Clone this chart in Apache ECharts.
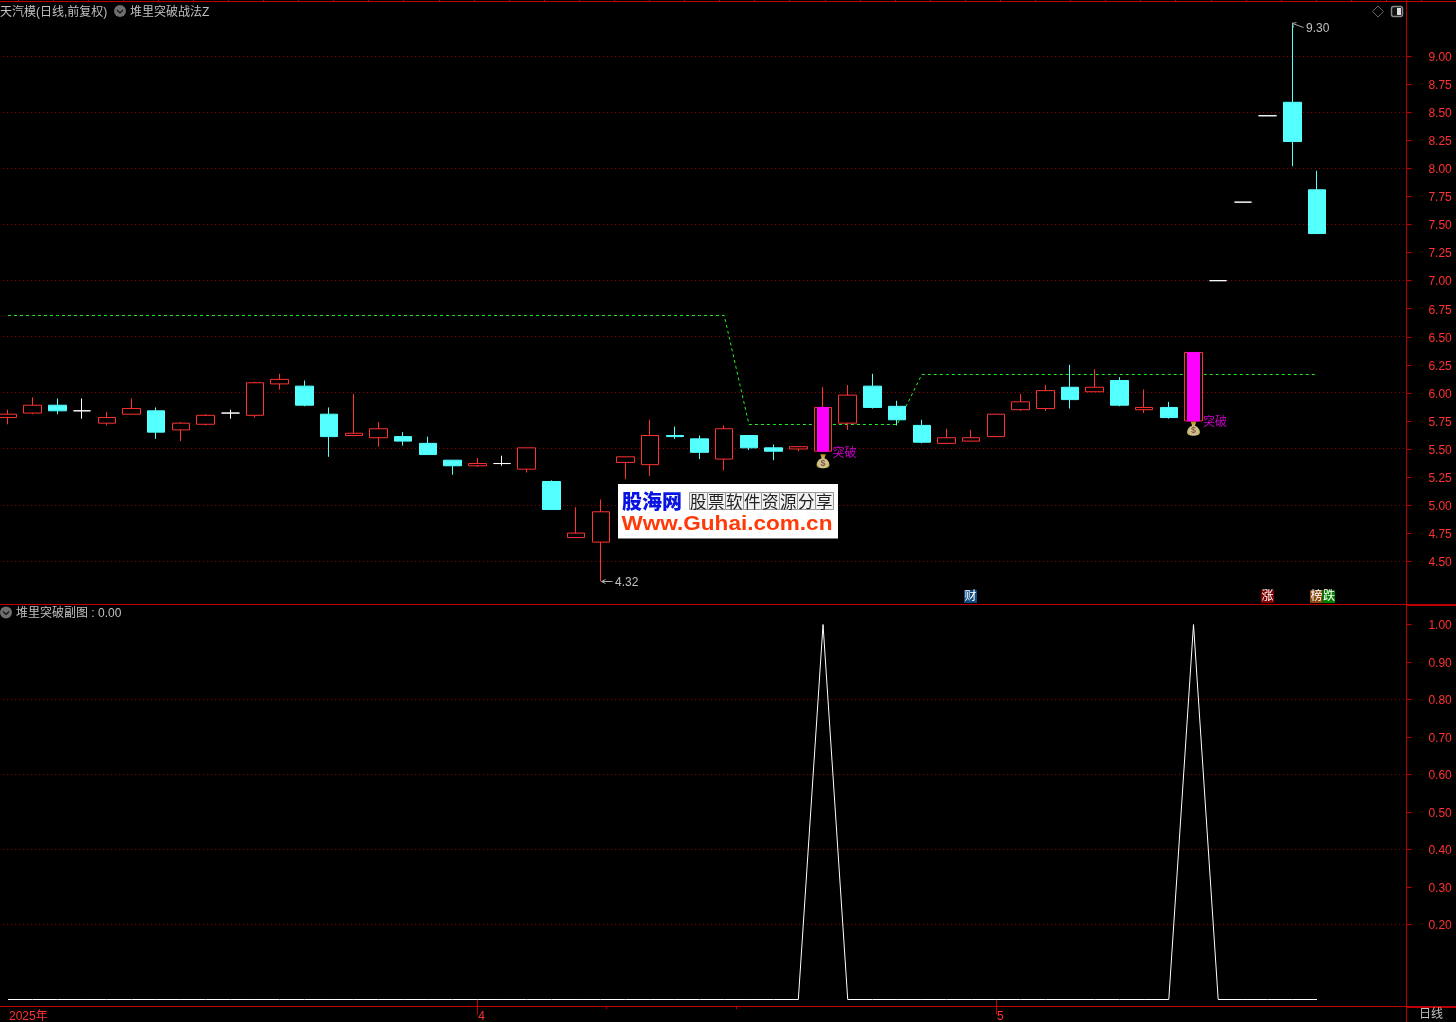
<!DOCTYPE html>
<html>
<head>
<meta charset="utf-8">
<style>html,body{margin:0;padding:0;background:#000;overflow:hidden}#c{width:1456px;height:1022px}</style>
<script src="https://cdn.jsdelivr.net/npm/echarts@6/dist/echarts.min.js"></script>
</head>
<body>
<div id="c"></div>
<script>
const dates = ['03-05','03-06','03-07','03-10','03-11','03-12','03-13','03-14','03-17','03-18','03-19','03-20','03-21','03-24','03-25','03-26','03-27','03-28','03-31','04-01','04-02','04-03','04-07','04-08','04-09','04-10','04-11','04-14','04-15','04-16','04-17','04-18','04-21','04-22','04-23','04-24','04-25','04-28','04-29','04-30','05-06','05-07','05-08','05-09','05-12','05-13','05-14','05-15','05-16','05-19','05-20','05-21','05-22','05-23','','',''];
const opens  = [5.78,5.82,5.89,5.84,5.73,5.81,5.84,5.67,5.72,5.82,5.80,6.08,6.06,5.81,5.62,5.60,5.61,5.55,5.40,5.35,5.37,5.32,5.21,4.71,4.67,5.38,5.36,5.62,5.59,5.41,5.62,5.51,5.50,5.48,5.73,6.06,5.88,5.71,5.55,5.57,5.61,5.85,5.86,6.05,6.01,6.11,5.85,5.87,5.75,7.00,7.70,8.47,8.59,7.81];
const closes = [5.81,5.89,5.84,5.84,5.78,5.86,5.65,5.73,5.80,5.82,6.09,6.12,5.89,5.61,5.64,5.68,5.57,5.45,5.35,5.37,5.37,5.51,4.96,4.75,4.94,5.43,5.62,5.61,5.47,5.68,5.51,5.48,5.52,5.87,5.98,5.87,5.76,5.56,5.60,5.60,5.81,5.92,6.02,5.94,6.05,5.89,5.87,5.78,6.36,7.00,7.70,8.47,8.24,7.42];
const highs  = [5.85,5.96,5.95,5.95,5.83,5.95,5.87,5.74,5.81,5.85,6.10,6.17,6.11,5.87,5.99,5.74,5.65,5.61,5.40,5.42,5.44,5.51,5.22,4.98,5.05,5.43,5.76,5.70,5.62,5.71,5.62,5.54,5.52,6.05,6.07,6.17,5.93,5.76,5.68,5.67,5.81,5.99,6.07,6.25,6.21,6.14,6.03,5.92,6.36,7.00,7.70,8.47,9.30,7.98];
const lows   = [5.72,5.81,5.81,5.77,5.71,5.81,5.59,5.57,5.71,5.77,5.78,6.03,5.88,5.43,5.62,5.52,5.53,5.45,5.27,5.34,5.35,5.29,4.96,4.71,4.32,5.23,5.26,5.59,5.41,5.31,5.49,5.40,5.48,5.48,5.67,5.86,5.71,5.55,5.55,5.57,5.61,5.84,5.84,5.86,6.01,5.88,5.82,5.77,5.75,7.00,7.70,8.47,8.02,7.42];
const supportLine = [6.69,6.69,6.69,6.69,6.69,6.69,6.69,6.69,6.69,6.69,6.69,6.69,6.69,6.69,6.69,6.69,6.69,6.69,6.69,6.69,6.69,6.69,6.69,6.69,6.69,6.69,6.69,6.69,6.69,6.69,5.718,5.718,5.718,5.718,5.718,5.718,5.718,6.164,6.164,6.164,6.164,6.164,6.164,6.164,6.164,6.164,6.164,6.164,6.164,6.164,6.164,6.164,6.164,6.164];
const signalLine = [0,0,0,0,0,0,0,0,0,0,0,0,0,0,0,0,0,0,0,0,0,0,0,0,0,0,0,0,0,0,0,0,0,1,0,0,0,0,0,0,0,0,0,0,0,0,0,0,1,0,0,0,0,0];
const breakouts = [33, 48];
const bagPrices = [5.39, 5.68];
const breakoutLabelPrices = [5.46, 5.735];
const extremes = [[24, 4.32], [52, 9.30]];
const priceTicks = [4.5,4.75,5,5.25,5.5,5.75,6,6.25,6.5,6.75,7,7.25,7.5,7.75,8,8.25,8.5,8.75,9];
const priceGrid = [4.5,5,5.5,6,6.5,7,7.5,8,8.5,9];
const signalTicks = [0.2,0.3,0.4,0.5,0.6,0.7,0.8,0.9,1];
const signalGrid = [0.2,0.4,0.6,0.8];
const xTickLabels = {0:'2025年', 19:'4', 40:'5'};
const slogan = ['股','票','软','件','资','源','分','享'];

const FONT = '"Liberation Sans","Noto Sans CJK SC",sans-serif';
const RED = '#ff3232', FRAME = '#c00000', GRIDC = '#900000', GRAY = '#c0c0c0', T = 'transparent';
const BAND = 24.698, LEFT = -4.35, WIDTH = BAND * 57;

const candles = opens.map((o, i) => [o, closes[i], lows[i], highs[i]]);

function txt(x, y, s, fill, size, extra) {
  return {type:'text', z:100, x, y: y + 1.5, style:Object.assign({text:s, fill, font:`${size||12}px ${FONT}`, textVerticalAlign:'middle'}, extra||{})};
}
function ln(x1, y1, x2, y2, stroke, w) {
  return {type:'line', z:90, shape:{x1,y1,x2,y2}, style:{stroke, lineWidth:w||1}};
}
function chevron(cx, cy) {
  return [
    {type:'circle', z:100, shape:{cx, cy, r:6}, style:{fill:'#6e6e6e'}},
    {type:'polyline', z:101, shape:{points:[[cx-3,cy-1],[cx,cy+2],[cx+3,cy-1]]}, style:{stroke:'#111', lineWidth:1.2, fill:null}}
  ];
}
function badge(x, y, w, bg, s) {
  return [
    {type:'rect', z:100, shape:{x, y, width:w, height:13}, style:{fill:bg}},
    txt(x + 0.5, y + 5.5, s, '#fff', 12)
  ];
}
function gridRender(params, api) {
  const y = Math.floor(api.coord([0, api.value(0)])[1]) + 0.5;
  return {type:'line', shape:{x1:3, y1:y, x2:1406, y2:y}, style:{stroke:GRIDC, lineWidth:1, lineDash:[1,3]}};
}
const logo = [
  {type:'rect', z:110, shape:{x:618, y:484, width:220, height:54.5}, style:{fill:'#fff'}},
  {type:'text', z:111, x:622, y:501.5, style:{text:'股海网', fill:'#0a14e0', font:`900 20px "Noto Sans CJK SC"`, textVerticalAlign:'middle'}},
  {type:'text', z:111, x:621.5, y:524.5, scaleX:1.1, style:{text:'Www.Guhai.com.cn', fill:'#ff3a08', font:`bold 20.5px "Liberation Sans"`, textVerticalAlign:'middle'}}
];
slogan.forEach((ch, i) => {
  logo.push({type:'rect', z:111, shape:{x:689.5 + i * 18, y:492.5, width:18, height:17}, style:{fill:'#f2f2f2', stroke:'#999', lineWidth:1}});
  logo.push({type:'text', z:112, x:690 + i * 18, y:501.5, style:{text:ch, fill:'#222', font:`16.5px "Noto Sans CJK SC"`, textVerticalAlign:'middle'}});
});
const topTicks = [];
for (let x = 17.5; x < 1456; x += 35.09) topTicks.push(ln(Math.round(x) + 0.5, 0, Math.round(x) + 0.5, 1, FRAME));

const graphics = [
  ...topTicks,
  ln(0, 1.5, 1456, 1.5, FRAME),
  ln(0, 604.5, 1456, 604.5, FRAME),
  ln(1407, 605.5, 1456, 605.5, FRAME),
  ln(0, 1006.5, 1456, 1006.5, FRAME),
  ln(1407, 1007.5, 1456, 1007.5, FRAME),
  ln(1406.5, 0, 1406.5, 1022, FRAME),
  ln(606.5, 1007, 606.5, 1009, FRAME),
  ln(736.5, 1007, 736.5, 1009, FRAME),
  txt(0, 11, '天汽模(日线,前复权)', GRAY),
  ...chevron(120, 11),
  txt(130, 11, '堆里突破战法Z', GRAY),
  ...chevron(6, 612.5),
  txt(16, 612.5, '堆里突破副图 : 0.00', GRAY),
  txt(1419, 1013.5, '日线', GRAY),
  {type:'polygon', z:100, shape:{points:[[1378,6],[1383.5,11.5],[1378,17],[1372.5,11.5]]}, style:{stroke:'#666', fill:null, lineWidth:1}},
  {type:'rect', z:100, shape:{x:1391.5, y:6.5, width:11, height:10, r:2}, style:{stroke:'#888', fill:'#111', lineWidth:1.5}},
  {type:'rect', z:101, shape:{x:1397, y:8, width:4, height:7}, style:{fill:'#ddd'}},
  ...badge(964, 590, 13, '#104a80', '财'),
  ...badge(1261, 590, 13, '#800000', '涨'),
  ...badge(1310, 590, 12.5, '#8a4a10', '榜'),
  ...badge(1322.5, 590, 12.5, '#008000', '跌'),
  ...logo
];
const tickRich = {n:{color:RED, fontSize:12, fontFamily:FONT, padding:[3,0,0,0]}};

const chart = echarts.init(document.getElementById('c'), null, {renderer:'canvas', width:1456, height:1022});
chart.setOption({
  animation:false,
  backgroundColor:'#000',
  textStyle:{fontFamily:FONT},
  grid:[
    {left:LEFT, top:0.2, width:WIDTH, height:589, outerBoundsMode:'none'},
    {left:LEFT, top:624.5, width:WIDTH, height:375, outerBoundsMode:'none'}
  ],
  xAxis:[
    {type:'category', gridIndex:0, data:dates, show:false, boundaryGap:true},
    {type:'category', gridIndex:1, data:dates, boundaryGap:true, position:'bottom', offset:7,
     axisLine:{show:false},
     axisTick:{show:true, alignWithLabel:true, length:15, lineStyle:{color:FRAME, width:1},
       interval:(i)=> i===19 || i===40},
     axisLabel:{show:true, color:RED, fontSize:12, fontFamily:FONT, align:'left', margin:4,
       padding:[0,0,0,1], hideOverlap:false,
       interval:(i)=> xTickLabels[i] !== undefined,
       formatter:(v, i)=> xTickLabels[i] || ''},
     splitLine:{show:false}}
  ],
  yAxis:[
    {type:'value', gridIndex:0, min:4.25, max:9.5, interval:0.25, position:'right', offset:3,
     axisLine:{show:false},
     axisTick:{show:true, length:5, customValues:priceTicks, lineStyle:{color:FRAME}},
     axisLabel:{margin:22, customValues:priceTicks, rich:tickRich, formatter:(v)=>`{n|${v.toFixed(2)}}`},
     splitLine:{show:false}},
    {type:'value', gridIndex:1, min:0, max:1, interval:0.1, position:'right', offset:3,
     axisLine:{show:false},
     axisTick:{show:true, length:5, customValues:signalTicks, lineStyle:{color:FRAME}},
     axisLabel:{margin:22, customValues:signalTicks, rich:tickRich, formatter:(v)=>`{n|${v.toFixed(2)}}`},
     splitLine:{show:false}}
  ],
  series:[
    {type:'custom', name:'价格网格', xAxisIndex:0, yAxisIndex:0, z:0, clip:false, silent:true,
     encode:{y:0}, data:priceGrid.map(v=>[v]), renderItem:gridRender},
    {type:'custom', name:'副图网格', xAxisIndex:1, yAxisIndex:1, z:0, clip:false, silent:true,
     encode:{y:0}, data:signalGrid.map(v=>[v]), renderItem:gridRender},
    {type:'candlestick', name:'K', xAxisIndex:0, yAxisIndex:0, barWidth:18, clip:false, data:candles,
     itemStyle:{color:'#000', color0:'#54ffff', borderColor:'#ff3232', borderColor0:'#54ffff', borderColorDoji:'#ffffff', borderWidth:1}},
    {type:'candlestick', name:'突破', xAxisIndex:0, yAxisIndex:0, barWidth:12, clip:false, z:3,
     data:opens.map((o,i)=> breakouts.includes(i) ? [o, closes[i], o, closes[i]] : ['-','-','-','-']),
     itemStyle:{color:'#ff00ff', color0:'#ff00ff', borderColor:'#ff00ff', borderColor0:'#ff00ff', borderWidth:1}},
    {type:'line', name:'支撑', xAxisIndex:0, yAxisIndex:0, data:supportLine, showSymbol:false, symbol:'none', clip:false, z:1,
     lineStyle:{color:'#22f022', width:1, type:[3,3]}},
    {type:'scatter', name:'钱袋', xAxisIndex:0, yAxisIndex:0, z:5, symbolSize:[13,14],
     symbol:'path://M4,0 L10,0 L8.5,4 C12,5 14,8 14,10.5 C14,13 11,14 7,14 C3,14 0,13 0,10.5 C0,8 2,5 5.5,4 Z',
     data:breakouts.map((b,i)=>[b, bagPrices[i]]),
     itemStyle:{color:{type:'radial',x:0.5,y:0.65,r:0.6,colorStops:[{offset:0,color:'#ffffff'},{offset:0.6,color:'#fff0a0'},{offset:1,color:'#f0b820'}]}},
     label:{show:true, position:'inside', offset:[0,2], formatter:'$', color:'#7a3b10', fontSize:9, fontWeight:'bold'}},
    {type:'scatter', name:'突破标注', xAxisIndex:0, yAxisIndex:0, z:5, symbol:'circle', symbolSize:1,
     data:breakouts.map((b,i)=>[b, breakoutLabelPrices[i]]),
     itemStyle:{color:T},
     label:{show:true, position:'right', distance:9, formatter:'突破', color:'#ff00ff', fontSize:12, fontFamily:FONT}},
    {type:'custom', name:'极值', xAxisIndex:0, yAxisIndex:0, z:6, clip:false,
     encode:{x:0, y:1}, data:extremes,
     renderItem:(params, api)=>{
       const v = api.value(1);
       const p = api.coord([api.value(0), v]);
       const x = Math.round(p[0]) + 0.5, y = Math.round(p[1]) + 0.5;
       const hi = v > 7;
       const end = hi ? [x + 11, y + 4] : [x + 11, y];
       return {type:'group', children:[
         {type:'polyline', shape:{points:[[x,y],end]}, style:{stroke:'#aaa', lineWidth:1, fill:null}},
         {type:'polyline', shape:{points: hi ? [[x+1,y+4],[x,y],[x+4,y-1]] : [[x+4,y-2],[x,y],[x+4,y+2]]}, style:{stroke:'#aaa', lineWidth:1, fill:null}},
         {type:'text', x:x+13.5, y: hi ? y+5 : y+1, style:{text:v.toFixed(2), fill:GRAY, font:`12px ${FONT}`, textVerticalAlign:'middle'}}
       ]};
     }},
    {type:'line', name:'副图', xAxisIndex:1, yAxisIndex:1, data:signalLine, showSymbol:false, symbol:'none', clip:false,
     lineStyle:{color:'#ffffff', width:1}}
  ],
  graphic:{elements:graphics}
});
</script>
</body>
</html>
